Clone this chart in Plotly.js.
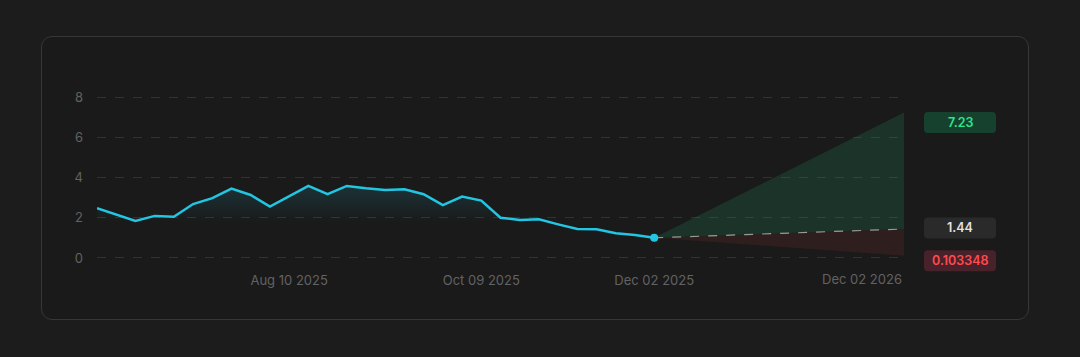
<!DOCTYPE html>
<html>
<head>
<meta charset="utf-8">
<script src="https://cdn.plot.ly/plotly-3.0.1.min.js"></script>
<style>
  html, body { margin:0; padding:0; background:#1c1c1c; width:1080px; height:357px; overflow:hidden; }
  #card { position:absolute; left:41px; top:36px; width:986px; height:282px; border:1px solid #373737; border-radius:11px; background:#1a1a1a; }
  #chart { position:absolute; left:0; top:0; width:1080px; height:357px; }
</style>
</head>
<body>
<div id="card"></div>
<div id="chart"></div>
<script>
// ---- data ----
const histDates = ['2025-06-11','2025-06-17','2025-06-23','2025-06-29','2025-07-05','2025-07-11','2025-07-17','2025-07-23','2025-07-29','2025-08-04',
                   '2025-08-10','2025-08-16','2025-08-22','2025-08-28','2025-09-03','2025-09-09','2025-09-15','2025-09-21','2025-09-27','2025-10-03',
                   '2025-10-09','2025-10-15','2025-10-21','2025-10-27','2025-11-02','2025-11-08','2025-11-14','2025-11-20','2025-11-26','2025-12-02'];
const histValues = [2.47, 2.15, 1.84, 2.09, 2.05, 2.68, 2.97, 3.45, 3.13, 2.55,
                    3.05, 3.58, 3.17, 3.58, 3.46, 3.38, 3.41, 3.17, 2.63, 3.05,
                    2.85, 2.00, 1.89, 1.92, 1.67, 1.44, 1.43, 1.23, 1.14, 1.00];
const forecastDate = '2026-12-02';
const forecastUpper = 7.23;
const forecastMedian = 1.44;
const forecastLower = 0.103348;
const forecastLabels = ['7.23', '1.44', '0.103348'];
const tickDates = ['2025-08-10', '2025-10-09', '2025-12-02'];
const tickLabels = ['Aug 10 2025', 'Oct 09 2025', 'Dec 02 2025'];
const forecastTickLabel = 'Dec 02 2026';
const yTicks = [0, 2, 4, 6, 8];

// ---- positions on a step axis ----
const forecastSteps = 13;
const histX = histDates.map((d, i) => i);
const lastI = histX.length - 1;
const lastV = histValues[lastI];
const fX = lastI + forecastSteps;
const tickVals = tickDates.map(d => histDates.indexOf(d));
const yRange = [-0.5, 8.5];
const toPaperY = v => (v - yRange[0]) / (yRange[1] - yRange[0]);

const FONT = 'Inter, "Noto Sans", sans-serif';
const TICKCOL = '#626262';

const traces = [
  { x: histX, y: histValues, type: 'scatter', mode: 'lines', fill: 'tozeroy',
    fillgradient: { type: 'vertical', colorscale: [[0, 'rgba(34,200,229,0)'], [0.5, 'rgba(34,200,229,0)'], [1, 'rgba(34,200,229,0.14)']] },
    line: { color: '#22c6e2', width: 2.5 }, hoverinfo: 'skip' },
  { x: [lastI, fX], y: [lastV, forecastLower], type: 'scatter', mode: 'lines',
    line: { width: 0, color: 'rgba(0,0,0,0)' }, hoverinfo: 'skip' },
  { x: [lastI, fX], y: [lastV, forecastMedian], type: 'scatter', mode: 'lines', fill: 'tonexty',
    fillcolor: 'rgba(170,55,55,0.15)', line: { color: '#9a9a9a', width: 1.2, dash: 'dash' }, hoverinfo: 'skip' },
  { x: [lastI, fX], y: [lastV, forecastUpper], type: 'scatter', mode: 'lines', fill: 'tonexty',
    fillcolor: 'rgba(34,160,100,0.19)', line: { width: 0, color: 'rgba(0,0,0,0)' }, hoverinfo: 'skip' },
  { x: [lastI], y: [lastV], type: 'scatter', mode: 'markers',
    marker: { color: '#22c6e2', size: 8 }, hoverinfo: 'skip' }
];

function roundBox(cx, cy, w, h, r) {
  const x0 = cx - w/2, x1 = cx + w/2, y0 = cy - h/2, y1 = cy + h/2;
  return `M ${x0+r},${y0} L ${x1-r},${y0} Q ${x1},${y0} ${x1},${y0+r} L ${x1},${y1-r} Q ${x1},${y1} ${x1-r},${y1} L ${x0+r},${y1} Q ${x0},${y1} ${x0},${y1-r} L ${x0},${y0+r} Q ${x0},${y0} ${x0+r},${y0} Z`;
}
const boxes = [
  { v: forecastUpper, shift: -10, bg: '#16412f', fg: '#2ee68a', text: forecastLabels[0] },
  { v: forecastMedian, shift: 1, bg: '#2a2a2a', fg: '#e2e2e2', text: forecastLabels[1] },
  { v: forecastLower, shift: -5, bg: '#47222a', fg: '#ff4b4f', text: forecastLabels[2] }
];
const shapes = boxes.map(b => ({
  type: 'path', xref: 'paper', yref: 'paper', xsizemode: 'pixel', ysizemode: 'pixel',
  xanchor: 1, yanchor: toPaperY(b.v), path: roundBox(56, b.shift, 72, 21, 4),
  fillcolor: b.bg, line: { width: 0 }, layer: 'above'
}));
const annotations = boxes.map(b => ({
  x: 1, y: toPaperY(b.v), xref: 'paper', yref: 'paper', xshift: 56, yshift: b.shift, showarrow: false,
  text: b.text, font: { family: FONT, size: 12.5, color: b.fg, weight: 600 }, xanchor: 'center', yanchor: 'middle'
}));
annotations.push({ x: fX, y: 0, xref: 'x', yref: 'paper', yshift: -11, showarrow: false, xanchor: 'right', yanchor: 'middle',
  text: forecastTickLabel, font: { family: FONT, size: 13, color: TICKCOL } });

const layout = {
  width: 1080, height: 357,
  margin: { l: 97, r: 176, t: 87, b: 89 },
  paper_bgcolor: 'rgba(0,0,0,0)', plot_bgcolor: 'rgba(0,0,0,0)',
  showlegend: false,
  xaxis: { range: [0, fX], tickvals: tickVals, ticktext: tickLabels, showgrid: false, zeroline: false, showline: false,
           ticks: '', ticklabelstandoff: 3, tickfont: { family: FONT, size: 13, color: TICKCOL }, fixedrange: true },
  yaxis: { range: yRange, tickvals: yTicks, showgrid: true, gridcolor: '#323232', griddash: 'dash', gridwidth: 1,
           zeroline: false, showline: false, ticks: '', ticklabelstandoff: 13,
           tickfont: { family: FONT, size: 13, color: TICKCOL }, fixedrange: true },
  shapes: shapes,
  annotations: annotations
};

Plotly.newPlot('chart', traces, layout, { displayModeBar: false, staticPlot: true });
</script>
</body>
</html>
